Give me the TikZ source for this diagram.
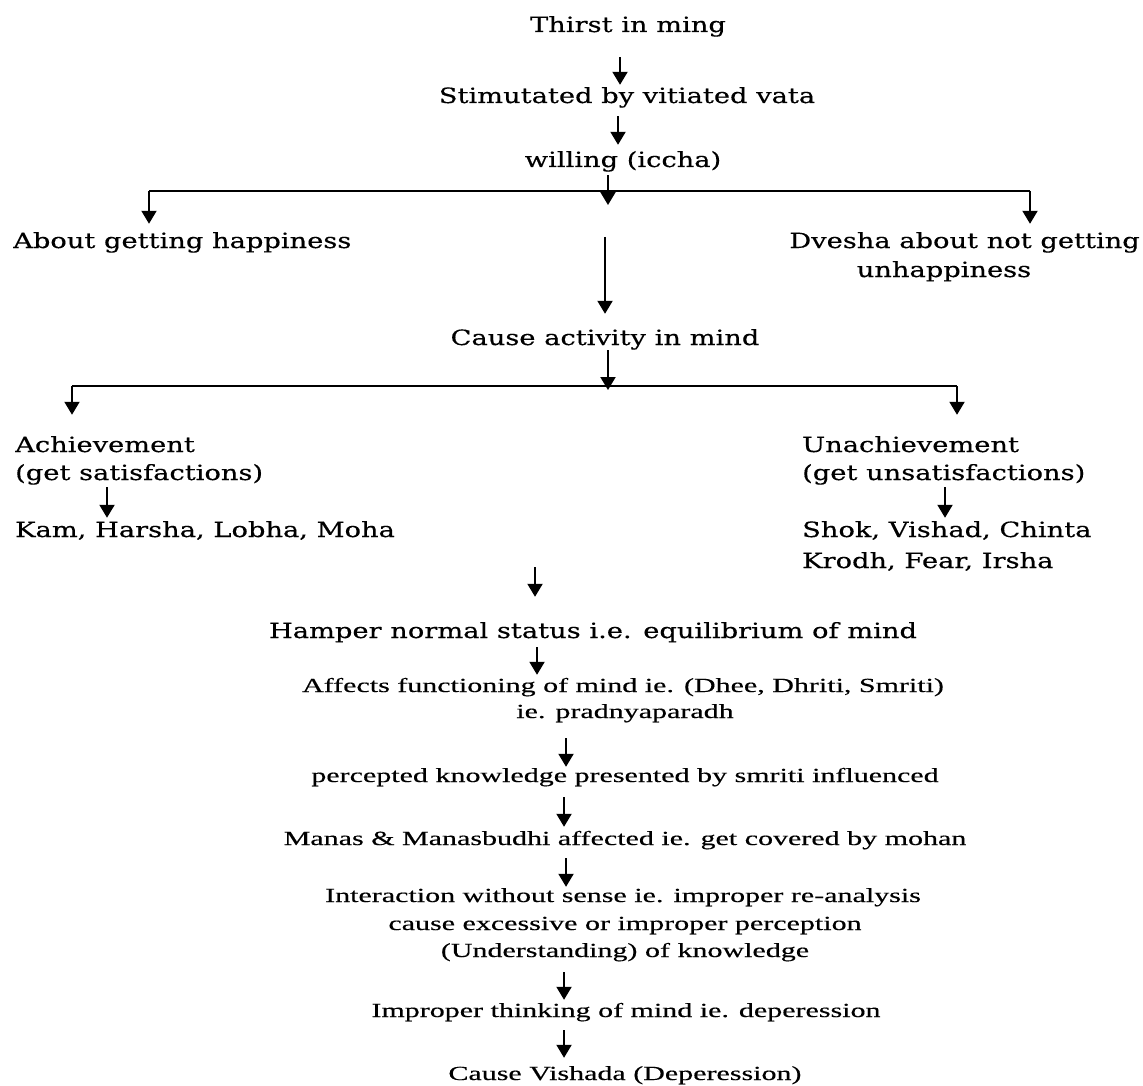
\documentclass[tikz,border=0pt]{standalone}
\usepackage{fontspec}
\newfontfamily\slabfont[FakeStretch=1.3,FakeBold=0.4]{DejaVu Serif}
\newfontfamily\timesfont[FakeStretch=1.5,FakeBold=0.4]{Liberation Serif}
\usetikzlibrary{arrows.meta}

\tikzset{
  upper/.style={inner sep=0pt, anchor=base, text height=15pt, text depth=5pt, font=\slabfont\fontsize{21}{28}\selectfont},
  lower/.style={inner sep=0pt, anchor=base, text height=15pt, text depth=5pt, font=\timesfont\fontsize{20}{28}\selectfont},
  flow/.style={line width=2pt, -{Triangle[width=15pt,length=13pt]}, shorten <=8pt, shorten >=3pt},
  bar/.style={line width=2.4pt}
}

\begin{document}
\begin{tikzpicture}[x=1pt, y=-1pt]
\useasboundingbox (0,0) rectangle (1143,1086);
\fill[white] (0,0) rectangle (1143,1086);

% upper part
\node[upper] (thirst) at (628,32) {Thirst in ming};
\node[upper] (stim) at (627,103) {Stimutated by vitiated vata};
\node[upper] (will) at (623,167) {willing (iccha)};
\node[upper, anchor=base west] (happy) at (13,248) {About getting happiness};
\node[upper, anchor=base east] (dvesha) at (1140,248) {Dvesha about not getting};
\node[upper] (unhappy) at (944,277) {unhappiness};
\node[upper] (cause) at (605,345) {Cause activity in mind};

\node[upper, anchor=base west] (achv) at (15,452) {Achievement};
\node[upper, anchor=base west] (getsat) at (15,480) {(get satisfactions)};
\node[upper, anchor=base west] (kam) at (15,537) {Kam, Harsha, Lobha, Moha};
\node[upper, anchor=base west] (unachv) at (802,452) {Unachievement};
\node[upper, anchor=base west] (getunsat) at (802,480) {(get unsatisfactions)};
\node[upper, anchor=base west] (shok) at (802,537) {Shok, Vishad, Chinta};
\node[upper, anchor=base west] (krodh) at (802,568) {Krodh, Fear, Irsha};

\node[upper] (hamper) at (593,638) {Hamper normal status i.e. equilibrium of mind};

% lower part
\node[lower] (affects) at (623,692) {Affects functioning of mind ie. (Dhee, Dhriti, Smriti)};
\node[lower] (ie) at (625,718) {ie. pradnyaparadh};
\node[lower] (percept) at (625,782) {percepted knowledge presented by smriti influenced};
\node[lower] (manas) at (625,845) {Manas \& Manasbudhi affected ie. get covered by mohan};
\node[lower] (inter) at (623,902) {Interaction without sense ie. improper re-analysis};
\node[lower] (excess) at (625,930) {cause excessive or improper perception};
\node[lower] (under) at (625,957) {(Understanding) of knowledge};
\node[lower] (improper) at (626,1017) {Improper thinking of mind ie. deperession};
\node[lower] (vishada) at (625,1080) {Cause Vishada (Deperession)};

\coordinate (b1l) at (149,191);
\coordinate (b1r) at (1030,191);
\coordinate (j1) at (608,205);
\coordinate (l1) at (605,237);
\coordinate (j2) at (608,390);
\coordinate (b2l) at (72,386);
\coordinate (b2r) at (957,386);
\coordinate (f1) at (535,567);

\draw[flow, shorten <=20pt] (thirst.south -| 620,0) -- (stim.north -| 620,0);
\draw[flow, shorten >=7pt] (stim.south -| 618,0) -- (will.north -| 618,0);
\draw[flow, shorten <=3pt, shorten >=0pt] (will.south -| j1) -- (j1);
\draw[bar] (b1l) -- (b1r);
\draw[flow, shorten <=0pt, shorten >=9pt] (b1l) -- (happy.north -| b1l);
\draw[flow, shorten <=0pt, shorten >=9pt] (b1r) -- (dvesha.north -| b1r);
\draw[flow, shorten <=0pt, shorten >=16pt] (l1) -- (cause.north -| l1);
\draw[flow, shorten <=0pt, shorten >=0pt] (cause.south -| j2) -- (j2);
\draw[bar] (b2l) -- (b2r);
\draw[flow, shorten <=0pt, shorten >=22pt] (b2l) -- (achv.north -| b2l);
\draw[flow, shorten <=0pt, shorten >=22pt] (b2r) -- (unachv.north -| b2r);
\draw[flow, shorten <=2pt, shorten >=4pt] (getsat.south -| 107,0) -- (kam.north -| 107,0);
\draw[flow, shorten <=2pt, shorten >=4pt] (getunsat.south -| 945,0) -- (shok.north -| 945,0);
\draw[flow, shorten <=0pt, shorten >=26pt] (f1) -- (hamper.north -| f1);
\draw[flow, shorten <=4pt, shorten >=2pt] (hamper.south -| 537,0) -- (affects.north -| 537,0);
\draw[flow, shorten <=15pt, shorten >=0pt] (ie.south -| 566,0) -- (percept.north -| 566,0);
\draw[flow, shorten <=10pt] (percept.south -| 564,0) -- (manas.north -| 564,0);
\draw[flow, shorten >=0pt] (manas.south -| 566,0) -- (inter.north -| 566,0);
\draw[flow, shorten <=10pt, shorten >=2pt] (under.south -| 564,0) -- (improper.north -| 564,0);
\draw[flow, shorten >=7pt] (improper.south -| 564,0) -- (vishada.north -| 564,0);

\end{tikzpicture}
\end{document}
